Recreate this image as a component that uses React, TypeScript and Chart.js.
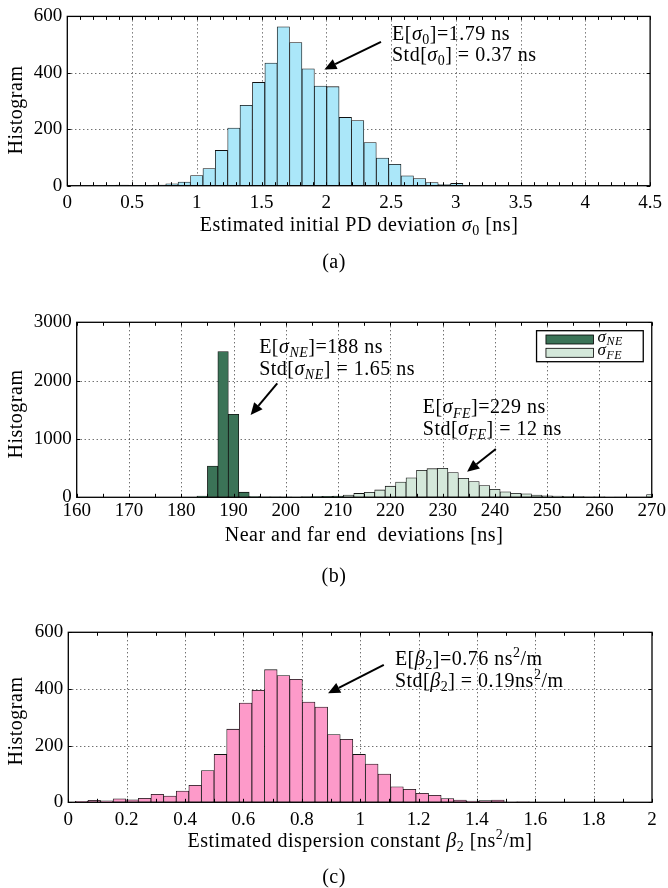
import React, { useEffect, useRef } from 'react';
import { Chart, registerables } from 'chart.js';
Chart.register(...registerables);

const FONT = "'Liberation Serif', 'Times New Roman', serif";

// ---------- Panel (a): estimated initial PD deviation ----------
const binsA = [0.138, 0.234, 0.330, 0.425, 0.521, 0.617, 0.712, 0.808, 0.903, 0.999, 1.095, 1.190, 1.286, 1.381, 1.477, 1.573, 1.668, 1.764, 1.860, 1.955, 2.051, 2.147, 2.242, 2.338, 2.434, 2.529, 2.625, 2.720, 2.816, 2.912, 3.007];
const countsA = [0, 0, 1, 2, 1, 1, 2, 7, 13, 36, 61, 125, 204, 285, 366, 435, 563, 507, 414, 353, 351, 242, 231, 153, 98, 76, 35, 25, 11, 4, 8];
const xTicksA = { min: 0, max: 4.5, step: 0.5, minor: 0.1 };
const yTicksA = { max: 600, step: 200 };

// ---------- Panel (b): near and far end deviations ----------
const binsNE = [184, 186, 188, 190, 192, 194, 196, 198, 200, 202, 204, 206, 208, 210];
const countsNE = [23, 537, 2497, 1423, 88, 12, 8, 6, 5, 4, 6, 12, 16, 18];
const binsFE = [200, 202, 204, 206, 208, 210, 212, 214, 216, 218, 220, 222, 224, 226, 228, 230, 232, 234, 236, 238, 240, 242, 244, 246, 248, 250, 252, 254, 256, 258, 260, 262, 264, 266, 268, 270];
const countsFE = [3, 4, 6, 8, 12, 23, 40, 66, 86, 126, 191, 260, 334, 463, 491, 497, 423, 326, 271, 200, 137, 94, 69, 60, 37, 26, 20, 15, 11, 8, 6, 5, 3, 3, 2, 46];
const xTicksB = { min: 160, max: 270, step: 10, minor: 5 };
const yTicksB = { max: 3000, step: 1000 };

// ---------- Panel (c): estimated dispersion constant ----------
const binsC = [0.0456, 0.0888, 0.1320, 0.1753, 0.2185, 0.2617, 0.3049, 0.3482, 0.3914, 0.4346, 0.4778, 0.5211, 0.5643, 0.6075, 0.6507, 0.6940, 0.7372, 0.7804, 0.8236, 0.8669, 0.9101, 0.9533, 0.9965, 1.0398, 1.0830, 1.1262, 1.1694, 1.2127, 1.2559, 1.2991, 1.3423, 1.3856, 1.4288, 1.4720, 1.5152, 1.5585];
const countsC = [3, 7, 5, 12, 9, 14, 28, 22, 40, 60, 112, 169, 258, 350, 395, 468, 447, 434, 354, 336, 239, 222, 169, 135, 100, 55, 46, 32, 25, 13, 8, 4, 6, 8, 1, 2];
const xTicksC = { min: 0, max: 2, step: 0.2, minor: 0.1 };
const yTicksC = { max: 600, step: 200 };

type Seg = { t: string; it?: boolean; sub?: boolean; sup?: boolean };

const SIZE = 20;

function segFont(s: Seg, size: number) {
  const sz = s.sub || s.sup ? Math.round(size * 0.7) : size;
  return `${s.it ? 'italic ' : ''}${sz}px ${FONT}`;
}

function drawRich(ctx: CanvasRenderingContext2D, segs: Seg[], x: number, y: number, align: 'left' | 'center' = 'left', size = SIZE) {
  ctx.save();
  (ctx as any).letterSpacing = '0.5px';
  ctx.textBaseline = 'alphabetic';
  ctx.textAlign = 'left';
  ctx.fillStyle = '#000';
  const widths = segs.map((s) => {
    ctx.font = segFont(s, size);
    return ctx.measureText(s.t).width;
  });
  const total = widths.reduce((a, b) => a + b, 0);
  let cx = align === 'center' ? x - total / 2 : x;
  segs.forEach((s, i) => {
    ctx.font = segFont(s, size);
    const dy = s.sub ? size * 0.22 : s.sup ? -size * 0.4 : 0;
    ctx.fillText(s.t, cx, y + dy);
    cx += widths[i];
  });
  ctx.restore();
}

function drawArrow(ctx: CanvasRenderingContext2D, x1: number, y1: number, x2: number, y2: number) {
  const ang = Math.atan2(y2 - y1, x2 - x1);
  const hl = 12, hw = 5.5;
  const bx = x2 - hl * Math.cos(ang), by = y2 - hl * Math.sin(ang);
  ctx.save();
  ctx.strokeStyle = '#000';
  ctx.fillStyle = '#000';
  ctx.lineWidth = 2;
  ctx.beginPath();
  ctx.moveTo(x1, y1);
  ctx.lineTo(bx, by);
  ctx.stroke();
  ctx.beginPath();
  ctx.moveTo(x2, y2);
  ctx.lineTo(bx + hw * Math.sin(ang), by - hw * Math.cos(ang));
  ctx.lineTo(bx - hw * Math.sin(ang), by + hw * Math.cos(ang));
  ctx.closePath();
  ctx.fill();
  ctx.restore();
}

type Ann = { x: number; ys: number[]; lines: Seg[][]; arrow: [number, number, number, number] };

type PanelSpec = {
  top: number;
  height: number;
  area: { left: number; top: number; right: number; bottom: number };
  xt: { min: number; max: number; step: number; minor: number };
  yt: { max: number; step: number };
  datasets: any[];
  xTitle: Seg[];
  xTitleX: number;
  xTitleY: number;
  yTitleY: number;
  caption: string;
  captionY: number;
  tickPad: number;
  anns: Ann[];
  legend?: { color: string; label: Seg[] }[];
};

const fmt = (v: number) => String(Math.round(v * 100) / 100);

function Panel(p: PanelSpec) {
  const ref = useRef<HTMLCanvasElement>(null);
  useEffect(() => {
    const canvas = ref.current!;
    const deco = {
      id: 'deco',
      beforeDatasetsDraw(chart: any) {
        const { ctx, chartArea: ca, scales } = chart;
        const xs = scales.x, ys = scales.y;
        ctx.save();
        ctx.strokeStyle = 'rgba(0,0,0,0.8)';
        ctx.lineWidth = 1;
        ctx.setLineDash([1, 3]);
        for (let v = p.xt.min + p.xt.step; v < p.xt.max - 1e-9; v += p.xt.step) {
          const px = Math.round(xs.getPixelForValue(v)) + 0.5;
          ctx.beginPath();
          ctx.moveTo(px, ca.top);
          ctx.lineTo(px, ca.bottom);
          ctx.stroke();
        }
        for (let v = p.yt.step; v < p.yt.max - 1e-9; v += p.yt.step) {
          const py = Math.round(ys.getPixelForValue(v)) + 0.5;
          ctx.beginPath();
          ctx.moveTo(ca.left, py);
          ctx.lineTo(ca.right, py);
          ctx.stroke();
        }
        ctx.restore();
      },
      afterDatasetsDraw(chart: any) {
        const { ctx, chartArea: ca, scales } = chart;
        const xs = scales.x, ys = scales.y;
        ctx.save();
        ctx.strokeStyle = '#000';
        ctx.lineWidth = 1;
        const tl = 3.5;
        const nMinor = Math.round((p.xt.max - p.xt.min) / p.xt.minor);
        for (let i = 0; i <= nMinor; i++) {
          const v = p.xt.min + i * p.xt.minor;
          const px = Math.round(xs.getPixelForValue(v)) + 0.5;
          ctx.beginPath();
          ctx.moveTo(px, ca.bottom);
          ctx.lineTo(px, ca.bottom - tl);
          ctx.moveTo(px, ca.top);
          ctx.lineTo(px, ca.top + tl);
          ctx.stroke();
        }
        for (let v = 0; v <= p.yt.max + 1e-9; v += p.yt.step) {
          const py = Math.round(ys.getPixelForValue(v)) + 0.5;
          ctx.beginPath();
          ctx.moveTo(ca.left, py);
          ctx.lineTo(ca.left + tl, py);
          ctx.moveTo(ca.right, py);
          ctx.lineTo(ca.right - tl, py);
          ctx.stroke();
        }
        ctx.lineWidth = 1.3;
        ctx.strokeRect(ca.left, ca.top, ca.right - ca.left, ca.bottom - ca.top);
        ctx.restore();

        // annotations
        p.anns.forEach((a) => {
          a.lines.forEach((ln, i) => drawRich(ctx, ln, xs.getPixelForValue(a.x), ys.getPixelForValue(a.ys[i])));
          drawArrow(ctx, xs.getPixelForValue(a.arrow[0]), ys.getPixelForValue(a.arrow[1]), xs.getPixelForValue(a.arrow[2]), ys.getPixelForValue(a.arrow[3]));
        });

        // legend
        if (p.legend) {
          const bw = 106.7, bh = 31;
          const bx = ca.right - 8.5 - bw, by = ca.top + 8.4;
          ctx.save();
          ctx.fillStyle = '#fff';
          ctx.fillRect(bx, by, bw, bh);
          ctx.strokeStyle = '#000';
          ctx.lineWidth = 1.3;
          ctx.strokeRect(bx, by, bw, bh);
          p.legend.forEach((it, i) => {
            const py = by + 4.3 + i * 13.3;
            ctx.fillStyle = it.color;
            ctx.fillRect(bx + 9.4, py, 47.6, 9);
            ctx.lineWidth = 0.8;
            ctx.strokeStyle = '#000';
            ctx.strokeRect(bx + 9.4, py, 47.6, 9);
            drawRich(ctx, it.label, bx + 61, py + 6.5, 'left', 17);
          });
          ctx.restore();
        }

        // titles
        drawRich(ctx, p.xTitle, p.xTitleX, p.xTitleY, 'center');
        ctx.save();
        ctx.translate(17, p.yTitleY);
        ctx.rotate(-Math.PI / 2);
        ctx.font = `${SIZE}px ${FONT}`;
        (ctx as any).letterSpacing = '0.5px';
        ctx.fillStyle = '#000';
        ctx.textAlign = 'center';
        ctx.textBaseline = 'middle';
        ctx.fillText('Histogram', 0, 0);
        ctx.restore();
        drawRich(ctx, [{ t: p.caption }], 334, p.captionY, 'center');
      },
    };

    const tickFont = { family: FONT, size: 19 };
    const chart = new Chart(canvas, {
      type: 'bar',
      data: { datasets: p.datasets },
      options: {
        responsive: false,
        animation: false,
        devicePixelRatio: 1,
        layout: { padding: { left: 0, top: p.area.top, right: 668 - p.area.right, bottom: 0 } },
        plugins: { legend: { display: false }, tooltip: { enabled: false } },
        datasets: { bar: { barPercentage: 1, categoryPercentage: 1, grouped: false } as any },
        scales: {
          x: {
            type: 'linear',
            min: p.xt.min,
            max: p.xt.max,
            offset: false,
            grid: { display: false, drawTicks: false },
            border: { display: false },
            ticks: {
              stepSize: p.xt.step,
              autoSkip: false,
              maxRotation: 0,
              minRotation: 0,
              padding: p.tickPad,
              color: '#000',
              font: tickFont,
              callback: (v: any) => fmt(Number(v)),
            },
            afterFit: (s: any) => {
              s.height = p.height - p.area.bottom;
            },
          },
          y: {
            type: 'linear',
            min: 0,
            max: p.yt.max,
            grid: { display: false, drawTicks: false },
            border: { display: false },
            ticks: { stepSize: p.yt.step, padding: 5, color: '#000', font: tickFont, callback: (v: any) => fmt(Number(v)) },
            afterFit: (s: any) => {
              s.width = p.area.left;
            },
          },
        } as any,
      },
      plugins: [deco],
    } as any);
    return () => chart.destroy();
  }, []);
  return (
    <canvas
      ref={ref}
      width={668}
      height={p.height}
      style={{ position: 'absolute', left: 0, top: p.top, width: 668, height: p.height, display: 'block' }}
    />
  );
}

const toXY = (xs: number[], ys: number[]) => xs.map((x, i) => ({ x, y: ys[i] }));
const barStyle = { borderColor: '#111', borderWidth: 0.8, borderSkipped: false };

const sig = (sub: string): Seg[] => [{ t: 'σ', it: true }, { t: sub, sub: true, it: sub !== '0' }];

export default function App() {
  const panelA: PanelSpec = {
    top: 0,
    height: 290,
    area: { left: 67.3, top: 12.3, right: 651, bottom: 185.7 },
    xt: xTicksA,
    yt: yTicksA,
    datasets: [{ label: 'σ0', data: toXY(binsA, countsA), backgroundColor: '#abe7f9', ...barStyle }],
    xTitle: [{ t: 'Estimated initial PD deviation ' }, ...sig('0'), { t: ' [ns]' }],
    xTitleX: 359,
    xTitleY: 230.5,
    yTitleY: 110,
    caption: '(a)',
    captionY: 268,
    tickPad: 6,
    anns: [
      {
        x: 2.507,
        ys: [518, 442],
        lines: [
          [{ t: 'E[' }, ...sig('0'), { t: ']=1.79 ns' }],
          [{ t: 'Std[' }, ...sig('0'), { t: '] = 0.37 ns' }],
        ],
        arrow: [2.422, 510, 1.985, 412],
      },
    ],
  };
  const panelB: PanelSpec = {
    top: 290,
    height: 310,
    area: { left: 76.7, top: 32.3, right: 652.5, bottom: 207.3 },
    xt: xTicksB,
    yt: yTicksB,
    datasets: [
      { label: 'σNE', data: toXY(binsNE, countsNE), backgroundColor: '#3b7357', ...barStyle },
      { label: 'σFE', data: toXY(binsFE, countsFE), backgroundColor: '#d4e8da', ...barStyle },
    ],
    xTitle: [{ t: 'Near and far end  deviations [ns]' }],
    xTitleX: 364,
    xTitleY: 250.5,
    yTitleY: 124,
    caption: '(b)',
    captionY: 292,
    tickPad: 2,
    anns: [
      {
        x: 194.9,
        ys: [2479, 2097],
        lines: [
          [{ t: 'E[' }, ...sig('NE'), { t: ']=188 ns' }],
          [{ t: 'Std[' }, ...sig('NE'), { t: '] = 1.65 ns' }],
        ],
        arrow: [198.36, 1954, 193.27, 1411],
      },
      {
        x: 226.2,
        ys: [1440, 1068],
        lines: [
          [{ t: 'E[' }, ...sig('FE'), { t: ']=229 ns' }],
          [{ t: 'Std[' }, ...sig('FE'), { t: '] = 12 ns' }],
        ],
        arrow: [240.17, 828, 234.68, 439],
      },
    ],
    legend: [
      { color: '#3b7357', label: sig('NE') },
      { color: '#d4e8da', label: sig('FE') },
    ],
  };
  const panelC: PanelSpec = {
    top: 600,
    height: 288,
    area: { left: 68.3, top: 32.3, right: 652, bottom: 202.3 },
    xt: xTicksC,
    yt: yTicksC,
    datasets: [{ label: 'β2', data: toXY(binsC, countsC), backgroundColor: '#fd9ac9', ...barStyle }],
    xTitle: [{ t: 'Estimated dispersion constant ' }, { t: 'β', it: true }, { t: '2', sub: true }, { t: ' [ns' }, { t: '2', sup: true }, { t: '/m]' }],
    xTitleX: 360,
    xTitleY: 246.5,
    yTitleY: 121,
    caption: '(c)',
    captionY: 283,
    tickPad: 6,
    anns: [
      {
        x: 1.119,
        ys: [485, 408],
        lines: [
          [{ t: 'E[' }, { t: 'β', it: true }, { t: '2', sub: true }, { t: ']=0.76 ns' }, { t: '2', sup: true }, { t: '/m' }],
          [{ t: 'Std[' }, { t: 'β', it: true }, { t: '2', sub: true }, { t: '] = 0.19ns' }, { t: '2', sup: true }, { t: '/m' }],
        ],
        arrow: [1.081, 485, 0.89, 385],
      },
    ],
  };
  return (
    <div style={{ position: 'absolute', left: 0, top: 0, width: 668, height: 888, background: '#fff', overflow: 'hidden' }}>
      <Panel {...panelA} />
      <Panel {...panelB} />
      <Panel {...panelC} />
    </div>
  );
}
